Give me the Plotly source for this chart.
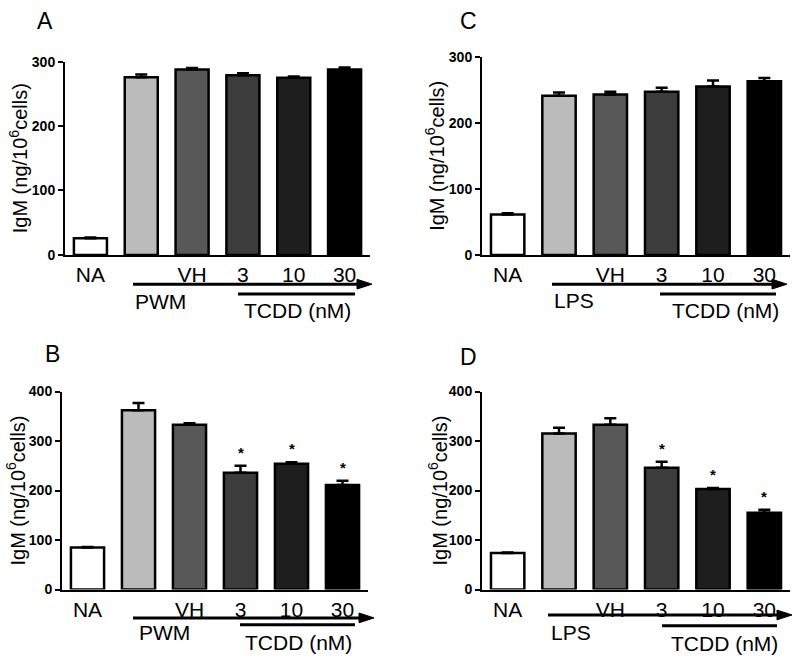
import plotly.graph_objects as go

W, H = 800, 662

# ---------------- data ----------------
tick_vals = [0, 2, 3, 4, 5]
tick_labels = ["NA", "VH", "3", "10", "30"]
bar_colors = ["#ffffff", "#bbbbbb", "#585858", "#3c3c3c", "#1e1e1e", "#000000"]

A_vals = [26, 276, 288, 279, 275, 288]
A_err = [1, 4, 2, 3, 2, 3]
B_vals = [85, 362, 333, 236, 254, 211]
B_err = [1, 15, 3, 14, 3, 9]
C_vals = [61, 241, 243, 247, 255, 263]
C_err = [2, 5, 4, 6, 9, 5]
D_vals = [74, 315, 333, 246, 203, 155]
D_err = [1, 12, 13, 12, 2, 6]

B_sig = [False, False, False, True, True, True]
D_sig = [False, False, False, True, True, True]

FONT = "Arial, Liberation Sans, sans-serif"


def px(x):
    return x / W


def py(y):
    return 1 - y / H


panels = [
    dict(letter="A", vals=A_vals, err=A_err, sig=None, ymax=300, xd=(65, 370), yd=(55, 253),
         stim="PWM", lpos=(45, 13),
         arrow=(133, 372, 283), tline=(238, 355, 293), stim_pos=(133, 301), tcdd_pos=(242, 310),
         title_x=18),
    dict(letter="B", vals=B_vals, err=B_err, sig=B_sig, ymax=400, xd=(62, 368), yd=(393, 596),
         stim="PWM", lpos=(52, 355),
         arrow=(133, 374, 625), tline=(240, 355, 632), stim_pos=(137, 640), tcdd_pos=(243, 650),
         title_x=16),
    dict(letter="C", vals=C_vals, err=C_err, sig=None, ymax=300, xd=(482, 790), yd=(50, 253),
         stim="LPS", lpos=(468, 13),
         arrow=(552, 787, 283), tline=(660, 776, 293), stim_pos=(552, 300), tcdd_pos=(670, 310),
         title_x=435),
    dict(letter="D", vals=D_vals, err=D_err, sig=D_sig, ymax=400, xd=(482, 790), yd=(393, 596),
         stim="LPS", lpos=(468, 358),
         arrow=(548, 792, 622), tline=(662, 777, 633), stim_pos=(549, 640), tcdd_pos=(669, 651),
         title_x=438),
]

fig = go.Figure()
shapes = []
annotations = []
layout_axes = {}

for i, p in enumerate(panels, start=1):
    xa = "x" if i == 1 else f"x{i}"
    ya = "y" if i == 1 else f"y{i}"
    fig.add_trace(go.Bar(
        x=list(range(len(p["vals"]))), y=p["vals"],
        xaxis=xa, yaxis=ya, width=0.65,
        marker=dict(color=bar_colors, line=dict(color="black", width=2.5)),
        error_y=dict(type="data", symmetric=False, array=p["err"],
                     arrayminus=[0] * len(p["err"]), color="black", thickness=2.5, width=6),
        showlegend=False, hoverinfo="skip",
    ))
    layout_axes["xaxis" if i == 1 else f"xaxis{i}"] = dict(
        domain=[px(p["xd"][0]), px(p["xd"][1])], anchor=ya, range=[-0.5, 5.5],
        tickmode="array", tickvals=tick_vals, ticktext=tick_labels,
        showline=True, linecolor="black", linewidth=2, ticks="", showgrid=False,
        zeroline=False, tickfont=dict(family=FONT, size=21, color="black"), fixedrange=True,
    )
    layout_axes["yaxis" if i == 1 else f"yaxis{i}"] = dict(
        domain=[py(p["yd"][1]), py(p["yd"][0])], anchor=xa, range=[0, p["ymax"]],
        tickmode="linear", tick0=0, dtick=100,
        showline=True, linecolor="black", linewidth=2, ticks="outside", ticklen=5,
        tickwidth=2, tickcolor="black", showgrid=False, zeroline=False,
        tickfont=dict(family=FONT, size=14, color="black", weight="bold"), fixedrange=True,
    )
    annotations.append(dict(
        text="IgM (ng/10<sup>6</sup>cells)", xref="paper", yref="paper",
        x=px(p["title_x"]), y=py((p["yd"][0] + p["yd"][1]) / 2), textangle=-90,
        showarrow=False, xanchor="center", yanchor="middle",
        font=dict(family=FONT, size=20, color="black"),
    ))
    annotations.append(dict(
        text=p["letter"], xref="paper", yref="paper", x=px(p["lpos"][0]), y=py(p["lpos"][1]),
        showarrow=False, xanchor="center", yanchor="middle",
        font=dict(family=FONT, size=23, color="black"),
    ))
    x0, x1, ay = p["arrow"]
    head = 15
    shapes.append(dict(type="line", xref="paper", yref="paper",
                       x0=px(x0), x1=px(x1 - head + 2), y0=py(ay), y1=py(ay),
                       line=dict(color="black", width=3)))
    shapes.append(dict(type="path", xref="paper", yref="paper",
                       path=f"M {px(x1 - head)},{py(ay - 5)} L {px(x1)},{py(ay)} L {px(x1 - head)},{py(ay + 5)} Z",
                       fillcolor="black", line=dict(color="black", width=1)))
    tx0, tx1, ty = p["tline"]
    shapes.append(dict(type="line", xref="paper", yref="paper",
                       x0=px(tx0), x1=px(tx1), y0=py(ty), y1=py(ty),
                       line=dict(color="black", width=3)))
    annotations.append(dict(
        text=p["stim"], xref="paper", yref="paper", x=px(p["stim_pos"][0]), y=py(p["stim_pos"][1]),
        showarrow=False, xanchor="left", yanchor="middle",
        font=dict(family=FONT, size=21, color="black"),
    ))
    annotations.append(dict(
        text="TCDD (nM)", xref="paper", yref="paper", x=px(p["tcdd_pos"][0]), y=py(p["tcdd_pos"][1]),
        showarrow=False, xanchor="left", yanchor="middle",
        font=dict(family=FONT, size=21, color="black"),
    ))
    if p["sig"]:
        for j, s in enumerate(p["sig"]):
            if s:
                annotations.append(dict(
                    text="*", xref=xa, yref=ya, x=j, y=p["vals"][j] + p["err"][j],
                    showarrow=False, xanchor="center", yanchor="bottom", yshift=3,
                    font=dict(family=FONT, size=15, color="black", weight="bold"),
                ))

fig.update_layout(
    width=W, height=H, margin=dict(l=0, r=0, t=0, b=0),
    paper_bgcolor="white", plot_bgcolor="white",
    shapes=shapes, annotations=annotations, bargap=0.3,
    hovermode=False, dragmode=False,
    **layout_axes,
)

fig.write_html("out.html", config={"displayModeBar": False, "staticPlot": True},
               post_script="document.body.style.margin='0';document.body.style.overflow='hidden';")
